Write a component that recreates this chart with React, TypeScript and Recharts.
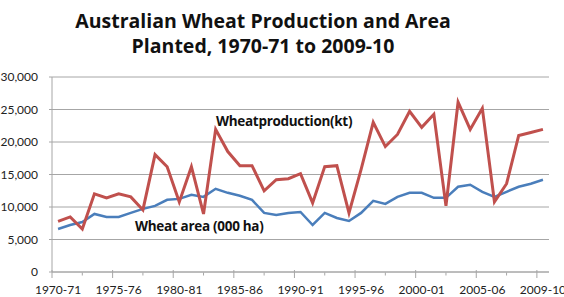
import React from "react";
import { LineChart, Line, XAxis, YAxis, CartesianGrid } from "recharts";

// Wheat production (kt), one value per season
const production = [
  7800, 8470, 6610, 12030, 11410, 12030, 11560, 9550, 18060, 16200,
  10790, 16200, 8930, 21940, 18530, 16360, 16360, 12490, 14190, 14350,
  15120, 10630, 16210, 16360, 9090, 15800, 23020, 19300, 21160, 24720,
  22250, 24260, 10170, 26120, 21940, 25190, 10790, 13580, 21010, 21470,
  21940,
];

// Wheat area planted (000 ha)
const area = [
  6610, 7230, 7690, 8930, 8470, 8470, 9090, 9710, 10170, 11100,
  11250, 11870, 11560, 12800, 12180, 11720, 11100, 9090, 8780, 9090,
  9240, 7230, 9090, 8310, 7850, 9090, 10940, 10480, 11560, 12180,
  12180, 11410, 11410, 13110, 13420, 12340, 11560, 12340, 13110, 13580,
  14190,
];

// season labels shown along the axis and the season index they sit on
const tickLabels = [
  "1970-71", "1975-76", "1980-81", "1985-86", "1990-91",
  "1995-96", "2000-01", "2005-06", "2009-10",
];
const labelPositions = [0, 5, 10, 15, 20, 25, 30, 35, 40];
const majorMarks = [-0.5, 4.5, 9.5, 14.5, 19.5, 24.5, 29.5, 34.5, 39.5];
const minorMarks = [2, 7, 12, 17, 22, 27, 32, 37];

const yTicks = [0, 5000, 10000, 15000, 20000, 25000, 30000];

const data = production.map((p, i) => ({ season: i, production: p, area: area[i] }));

const FONT = "Lato, 'Open Sans', sans-serif";
const HEAD_FONT = "'Open Sans', Lato, sans-serif";
const AXIS_GREY = "#a6a6a6";

const SeasonTick = (props: any) => {
  const { x, y, payload } = props;
  const v = payload.value;
  const li = labelPositions.indexOf(v);
  if (li >= 0) {
    return (
      <text x={x} y={y + 11} dy="0.71em" textAnchor="middle" fontSize={12} fill="#222" fontFamily={FONT}>
        {tickLabels[li]}
      </text>
    );
  }
  const major = majorMarks.includes(v);
  const h = major ? 4 : 1.5;
  return <line x1={x} x2={x} y1={y - h} y2={y + h} stroke={AXIS_GREY} strokeWidth={1} />;
};

const App = () => {
  const ticks = [...majorMarks, ...minorMarks, ...labelPositions].sort((a, b) => a - b);
  return (
    <div style={{ position: "absolute", left: 0, top: 0, width: 564, height: 297, background: "#fff", fontFamily: FONT }}>
      <div
        style={{
          position: "absolute",
          left: 0,
          top: 8,
          width: 526,
          textAlign: "center",
          fontFamily: HEAD_FONT,
          fontWeight: 700,
          fontSize: 19.5,
          lineHeight: "25px",
          color: "#111",
        }}
      >
        Australian Wheat Production and Area
        <br />
        Planted, 1970-71 to 2009-10
      </div>
      <LineChart
        width={564}
        height={297}
        data={data}
        margin={{ top: 77, right: 15, left: 0, bottom: 0 }}
      >
        <CartesianGrid vertical={false} stroke={AXIS_GREY} />
        <XAxis
          dataKey="season"
          type="number"
          domain={[-0.5, 40.5]}
          ticks={ticks}
          interval={0}
          tick={<SeasonTick />}
          tickLine={false}
          tickSize={0}
          height={25}
          axisLine={{ stroke: AXIS_GREY }}
        />
        <YAxis
          domain={[0, 30000]}
          ticks={yTicks}
          interval={0}
          width={52}
          tickSize={3}
          tickMargin={11}
          tickLine={{ stroke: AXIS_GREY }}
          axisLine={{ stroke: AXIS_GREY }}
          tickFormatter={(v: number) => v.toLocaleString("en-US")}
          tick={{ fontSize: 12, fill: "#222", fontFamily: FONT }}
        />
        <Line
          type="linear"
          dataKey="area"
          stroke="#4a7ebb"
          strokeWidth={2.5}
          dot={false}
          isAnimationActive={false}
        />
        <Line
          type="linear"
          dataKey="production"
          stroke="#c0504d"
          strokeWidth={3}
          dot={false}
          isAnimationActive={false}
        />
      </LineChart>
      <div style={{ position: "absolute", left: 216, top: 112, fontFamily: HEAD_FONT, fontSize: 13.5, letterSpacing: -0.3, fontWeight: 700, color: "#111", whiteSpace: "nowrap" }}>
        Wheatproduction(kt)
      </div>
      <div style={{ position: "absolute", left: 135, top: 217, fontFamily: HEAD_FONT, fontSize: 13.5, letterSpacing: -0.3, fontWeight: 700, color: "#111", whiteSpace: "nowrap" }}>
        Wheat area (000 ha)
      </div>
    </div>
  );
};

export default App;
